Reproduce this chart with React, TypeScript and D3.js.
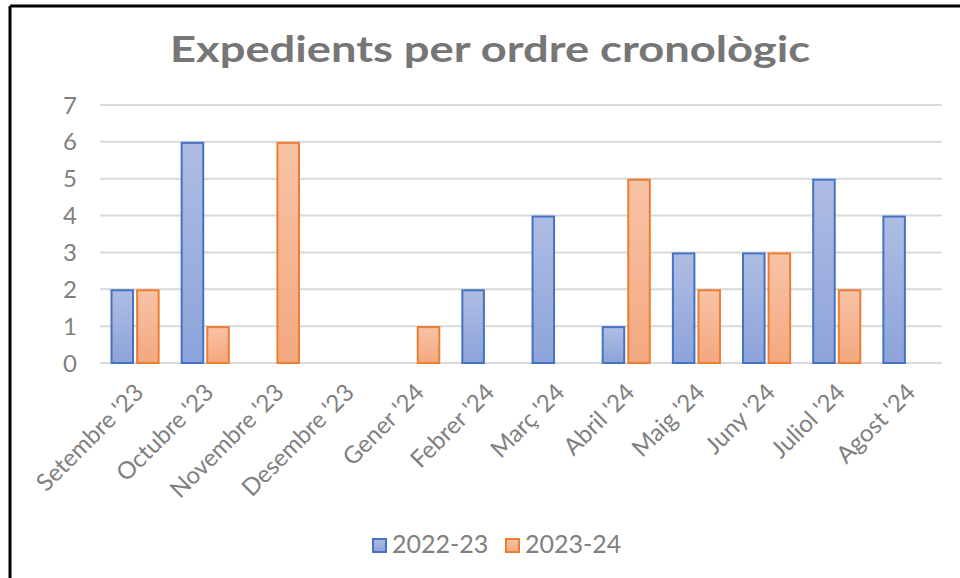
import React from "react";
import * as d3 from "d3";

const months = [
  "Setembre '23",
  "Octubre '23",
  "Novembre '23",
  "Desembre '23",
  "Gener '24",
  "Febrer '24",
  "Març '24",
  "Abril '24",
  "Maig '24",
  "Juny '24",
  "Juliol '24",
  "Agost '24",
];
const serie2223 = [2, 6, 0, 0, 0, 2, 4, 1, 3, 3, 5, 4];
const serie2324 = [2, 1, 6, 0, 1, 0, 0, 5, 2, 3, 2, 0];
const seriesNames = ["2022-23", "2023-24"];
const yTicks = [0, 1, 2, 3, 4, 5, 6, 7];

const W = 960;
const H = 578;
const margin = { top: 105, right: 18, bottom: 215, left: 100 };
const font = "Lato, 'Open Sans', sans-serif";
const grey = "#808080";

const seriesStyle = [
  { stroke: "#4472C4", top: "#AEBDE3", bottom: "#8DA3DA", id: "gBlue" },
  { stroke: "#ED7D31", top: "#F8C3A6", bottom: "#F4A880", id: "gOrange" },
];

export default function App() {
  const innerW = W - margin.left - margin.right;
  const innerH = H - margin.top - margin.bottom;

  const x = d3.scaleBand<string>().domain(months).range([0, innerW]).paddingInner(0.3).paddingOuter(0.15);
  const x1 = d3.scaleBand<string>().domain(seriesNames).range([0, x.bandwidth()]).paddingInner(0.08);
  const y = d3.scaleLinear().domain([0, 7]).range([innerH, 0]);

  const data = [serie2223, serie2324];

  return (
    <svg width={W} height={H} style={{ position: "absolute", left: 0, top: 0, background: "#fff" }}>
      <defs>
        {seriesStyle.map((s) => (
          <linearGradient key={s.id} id={s.id} x1="0" y1="0" x2="0" y2="1">
            <stop offset="0%" stopColor={s.top} />
            <stop offset="100%" stopColor={s.bottom} />
          </linearGradient>
        ))}
      </defs>
      <rect width={W} height={H} fill="#fff" />
      {/* border */}
      <line x1={10} y1={6} x2={W} y2={6} stroke="#000" strokeWidth={3} />
      <line x1={10} y1={6} x2={10} y2={H} stroke="#000" strokeWidth={3} />

      <text
        x={170}
        y={62}
        textLength={640}
        lengthAdjust="spacingAndGlyphs"
        fontFamily={font}
        fontWeight="bold"
        fontSize={36}
        fill="#767676"
      >
        Expedients per ordre cronològic
      </text>

      <g transform={`translate(${margin.left},${margin.top})`}>
        {yTicks.map((t) => (
          <g key={t}>
            <line x1={0} x2={innerW} y1={y(t)} y2={y(t)} stroke="#d9d9d9" strokeWidth={2} />
            <text x={-23} y={y(t)} dy="0.36em" textAnchor="end" fontFamily={font} fontSize={24} fill={grey}>
              {t}
            </text>
          </g>
        ))}

        {months.map((m, i) => (
          <g key={m} transform={`translate(${x(m)},0)`}>
            {data.map((vals, s) =>
              vals[i] > 0 ? (
                <rect
                  key={s}
                  x={x1(seriesNames[s])! + 1}
                  y={y(vals[i]) + 1}
                  width={x1.bandwidth() - 2}
                  height={innerH - y(vals[i]) - 1}
                  fill={`url(#${seriesStyle[s].id})`}
                  stroke={seriesStyle[s].stroke}
                  strokeWidth={2}
                />
              ) : null
            )}
          </g>
        ))}

        {months.map((m) => {
          const cx = x(m)! + x.bandwidth() / 2 + 4;
          return (
            <text
              key={m}
              transform={`translate(${cx},${innerH + 25}) rotate(-45)`}
              textAnchor="end"
              dy="0.35em"
              fontFamily={font}
              fontSize={24}
              fill={grey}
            >
              {m}
            </text>
          );
        })}
      </g>

      {/* legend */}
      {seriesNames.map((n, i) => {
        const lx = 373 + i * 133;
        return (
          <g key={n} transform={`translate(${lx},539)`}>
            <rect x={0} y={0} width={13} height={13} fill={`url(#${seriesStyle[i].id})`} stroke={seriesStyle[i].stroke} strokeWidth={2} />
            <text x={19} y={14} fontFamily={font} fontSize={25} fill={grey}>
              {n}
            </text>
          </g>
        );
      })}
    </svg>
  );
}
